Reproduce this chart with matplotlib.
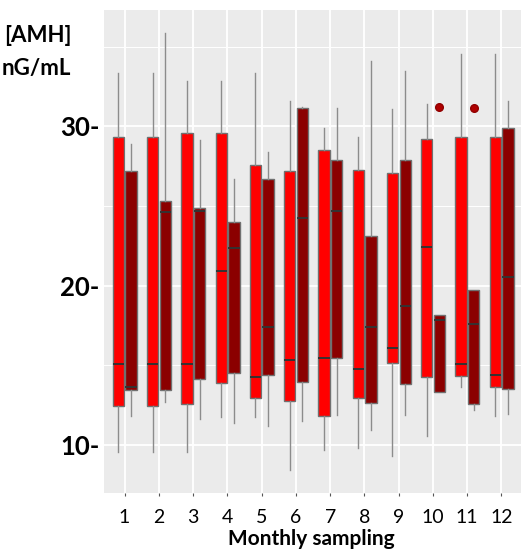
import numpy as np
import matplotlib
matplotlib.use("Agg")
import matplotlib.pyplot as plt

# monthly AMH boxplots, two series per month
months = [1, 2, 3, 4, 5, 6, 7, 8, 9, 10, 11, 12]

# red series
red_lo  = [9.53, 9.53, 9.53, 11.74, 11.74, 8.40, 9.70, 9.82, 9.32, 10.57, 13.66, 11.83]
red_q1  = [12.45, 12.45, 12.58, 13.87, 12.97, 12.75, 11.79, 12.97, 15.17, 14.27, 14.35, 13.62]
red_med = [15.08, 15.08, 15.08, 20.93, 14.29, 15.35, 15.46, 14.79, 16.09, 22.45, 15.08, 14.39]
red_q3  = [29.32, 29.30, 29.57, 29.57, 27.59, 27.21, 28.49, 27.25, 27.09, 29.20, 29.30, 29.30]
red_hi  = [33.37, 33.37, 32.87, 32.87, 33.37, 31.58, 29.89, 29.30, 31.10, 31.39, 34.54, 34.54]

# dark red series
dk_lo  = [11.83, 12.68, 11.62, 11.37, 11.20, 11.47, 11.89, 10.91, 11.89, 13.29, 12.20, 11.95]
dk_q1  = [13.45, 13.45, 14.14, 14.54, 14.37, 13.94, 15.46, 12.62, 13.85, 13.35, 12.56, 13.50]
dk_med = [13.66, 24.65, 24.71, 22.35, 17.40, 24.23, 24.71, 17.40, 18.74, 17.84, 17.57, 20.55]
dk_q3  = [27.21, 25.31, 24.90, 24.02, 26.69, 31.16, 27.88, 23.10, 27.88, 18.15, 19.72, 29.89]
dk_hi  = [28.90, 35.84, 29.11, 26.71, 28.40, 31.24, 31.16, 34.08, 33.48, 18.15, 19.72, 31.58]
dk_out = {10: [31.22], 11: [31.14]}

def make_stats(lo, q1, med, q3, hi, outliers=None):
    stats = []
    for i, m in enumerate(months):
        fl = [] if outliers is None else outliers.get(m, [])
        stats.append(dict(whislo=lo[i], q1=q1[i], med=med[i], q3=q3[i],
                          whishi=hi[i], fliers=fl))
    return stats

plt.rcParams['font.family'] = ['Lato', 'DejaVu Sans']

fig = plt.figure(figsize=(5.21, 5.51), dpi=100)
ax = fig.add_axes([104 / 521, (551 - 492.7) / 551, 418 / 521, 482.7 / 551])
ax.set_facecolor('#EBEBEB')

x = np.array(months, dtype=float)

# grid first (boxes drawn on top)
for yy in [15, 25, 35]:
    ax.axhline(yy, color='white', lw=0.7, zorder=0)
for yy in [10, 20, 30]:
    ax.axhline(yy, color='white', lw=1.3, zorder=0)
for xx in x:
    ax.axvline(xx, color='white', lw=1.3, zorder=0)

common = dict(widths=0.33, showcaps=False, patch_artist=True,
              whiskerprops=dict(color='#8c8c8c', lw=1.0),
              medianprops=dict(color='#333333', lw=1.4),
              flierprops=dict(marker='o', markersize=5.5, markerfacecolor='#B00000',
                              markeredgecolor='#900000', linestyle='none'))

b1 = ax.bxp(make_stats(red_lo, red_q1, red_med, red_q3, red_hi),
            positions=x - 0.18, boxprops=dict(facecolor='#FF0000', edgecolor='#707070', lw=1.0),
            **common)
b2 = ax.bxp(make_stats(dk_lo, dk_q1, dk_med, dk_q3, dk_hi, dk_out),
            positions=x + 0.19, boxprops=dict(facecolor='#8B0000', edgecolor='#707070', lw=1.0),
            **common)

ax.set_xlim(0.4, 12.6)
ax.set_ylim(7.0, 37.3)

ax.set_xticks(x)
ax.set_xticklabels([str(m) for m in months], fontsize=14)
ax.tick_params(axis='x', length=2.5, color='#555555', pad=9)

ax.set_yticks([10, 20, 30])
ax.set_yticklabels(['10-', '20-', '30-'], fontsize=18.5, fontweight='bold')
ax.tick_params(axis='y', length=0, pad=3)

for s in ax.spines.values():
    s.set_visible(False)

# x title placed by hand so it sits at the very bottom like the source
fig.text(311 / 521, 1 - 545 / 551, 'Monthly sampling', fontsize=15, fontweight='bold',
         ha='center', va='baseline')

fig.text(4 / 521, 1 - 36 / 551, '[AMH]', fontsize=16, fontweight='bold', va='center', ha='left')
fig.text(2 / 521, 1 - 68 / 551, 'nG/mL', fontsize=16, fontweight='bold', va='center', ha='left')

fig.savefig('out.png', dpi=100)
